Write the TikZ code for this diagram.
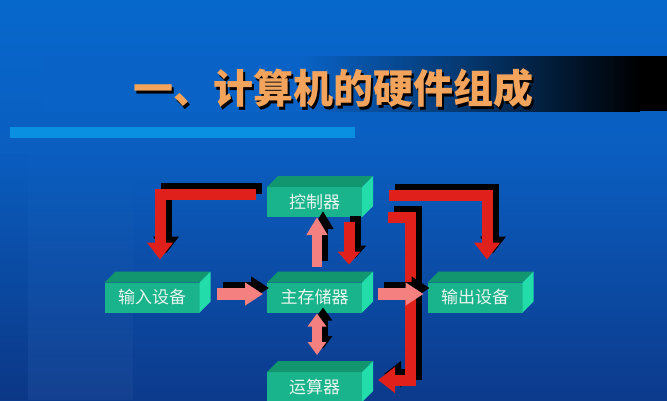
\documentclass[tikz,border=0pt]{standalone}
\usepackage{fontspec}
\newfontfamily\cjk{Noto Sans CJK SC}
\usetikzlibrary{arrows.meta,calc,fadings}
\definecolor{bgtop}{HTML}{0768CC}
\definecolor{bgmid}{HTML}{0A5EC0}
\definecolor{bgbot}{HTML}{0C3A8C}
\colorlet{bandc}{bgtop!45!bgmid}
\definecolor{barblue}{HTML}{0A90E0}
\definecolor{titleor}{HTML}{F2A35C}
\definecolor{boxfront}{HTML}{19B48C}
\definecolor{boxtop}{HTML}{129670}
\definecolor{boxside}{HTML}{22DCAA}
\definecolor{boxtext}{HTML}{E8F4EE}
\definecolor{arrred}{HTML}{E0201A}
\definecolor{arrpink}{HTML}{F58080}
\tikzfading[name=stripfade, top color=transparent!100, bottom color=transparent!0]
\newcommand\shArrow[2]{%
  \draw[#1, draw=black, transform canvas={shift={(6,-6)}}] #2;
  \draw[#1] #2;}
\newcommand\cuboid[1]{%
  \fill[boxtop] (#1.north west) -- ++(11,-11) -- ++(95,0) -- (#1.north east) -- cycle;
  \fill[boxside] (#1.north east) -- ++(11,-11) -- ++(0,30) -- (#1.south east) -- cycle;}
\begin{document}
\begin{tikzpicture}[x=1pt,y=-1pt,
  unit/.style={fill=boxfront, text=boxtext, minimum width=95pt, minimum height=30pt,
    inner sep=0pt, outer sep=0pt, font=\cjk\fontsize{17}{17}\selectfont},
  redarr/.style={draw=arrred, line width=11pt, line join=miter,
    -{Triangle[width=25pt,length=17pt]}},
  reddown/.style={draw=arrred, line width=11pt, -{Triangle[width=22pt,length=13pt]}},
  pinkh/.style={draw=arrpink, line width=12pt, -{Triangle[width=22pt,length=18pt]}},
  pinkv/.style={draw=arrpink, line width=10pt, -{Triangle[width=20pt,length=18pt]}},
  pinkd/.style={draw=arrpink, line width=10pt, {Triangle[width=18pt,length=13pt]}-{Triangle[width=18pt,length=13pt]}}
]
\useasboundingbox (0,0) rectangle (667,400);
\clip (0,0) rectangle (667,400);
% background
\shade[top color=bgtop, bottom color=bgmid] (0,0) rectangle (667,150);
\shade[top color=bgmid, bottom color=bgbot] (0,150) rectangle (667,400);
\fill[white, opacity=0.035, path fading=stripfade] (28,140) rectangle (133,400);
\fill[black, opacity=0.04, path fading=stripfade] (0,140) rectangle (28,400);
% title band
\fill[bandc] (43,56) rectangle (300,111);
\shade[left color=bandc, right color=black, middle color=bandc!55!black] (300,56) rectangle (640,111);
\fill[black] (639,56) rectangle (667,111);
\fill[barblue] (10,127) rectangle (355,138);
\node[text=black, font=\cjk\bfseries\fontsize{40}{40}\selectfont] (titleshadow) at (335,91) {一、计算机的硬件组成};
\node[text=titleor, font=\cjk\bfseries\fontsize{40}{40}\selectfont] (title) at (333,88) {一、计算机的硬件组成};
% boxes
\node[unit] (ctrl) at (314.5,202) {控制器};
\node[unit] (mem) at (314.5,297.5) {主存储器};
\node[unit] (in) at (152,297.5) {输入设备};
\node[unit] (out) at (475,297.5) {输出设备};
\node[unit] (alu) at (314.5,387) {运算器};
\cuboid{ctrl}
\cuboid{mem}
\cuboid{in}
\cuboid{out}
\cuboid{alu}
% red arrows
\shArrow{redarr}{([shift={(-11,-7.5)}]ctrl.west) -| ([shift={(8,-23)}]in.north)}
\shArrow{redarr}{([shift={(27,-7)}]ctrl.east) -| ([shift={(12,-23)}]out.north)}
\shArrow{redarr}{([shift={(26,15)}]ctrl.east) -- ++(22,0) |- ([shift={(16,-7)}]alu.east)}
\shArrow{reddown}{([shift={(34.5,5)}]ctrl.south) -- ([shift={(34.5,-18)}]mem.north)}
% pink arrows
\shArrow{pinkh}{([shift={(17,-3.5)}]in.east) -- ([shift={(-4,-3.5)}]mem.west)}
\shArrow{pinkh}{([shift={(16,-3.5)}]mem.east) -- ([shift={(-4,-3.5)}]out.west)}
\shArrow{pinkv}{([shift={(2.5,-16)}]mem.north) -- ([xshift=2.5]ctrl.south)}
\shArrow{pinkd}{([shift={(2.5,1)}]mem.south) -- ([shift={(2.5,-17)}]alu.north)}
\end{tikzpicture}
\end{document}
